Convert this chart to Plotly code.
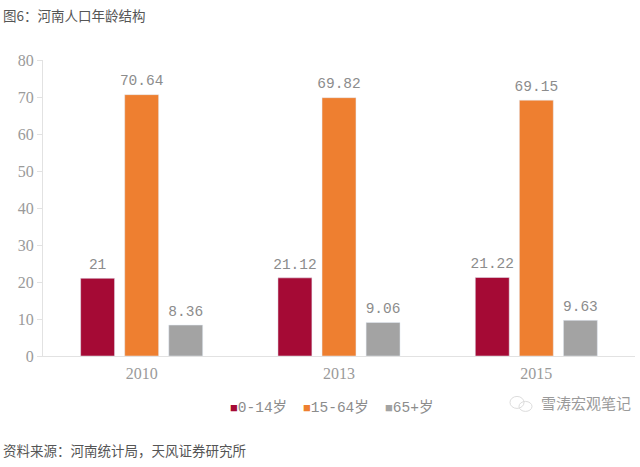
import plotly.graph_objects as go

categories = ["2010", "2013", "2015"]
series_names = ["0-14岁", "15-64岁", "65+岁"]
young = [21, 21.12, 21.22]
working = [70.64, 69.82, 69.15]
old = [8.36, 9.06, 9.63]
labels_young = ["21", "21.12", "21.22"]
labels_working = ["70.64", "69.82", "69.15"]
labels_old = ["8.36", "9.06", "9.63"]
colors = ["#A50A35", "#EE7F30", "#A3A3A3"]
title_text = "图6：河南人口年龄结构"
source_text = "资料来源：河南统计局，天风证券研究所"
mark_text = "雪涛宏观笔记"

SERIF = "Liberation Serif, Noto Sans CJK SC"
MONO = "Liberation Mono, Noto Sans CJK SC"
SANS = "Noto Sans CJK SC"
PW, PH = 592, 296.5

def px(x):
    return (x - 43) / PW

def py(y):
    return (356.5 - y) / PH

fig = go.Figure()
for name, vals, labs, col in zip(series_names, [young, working, old],
                                 [labels_young, labels_working, labels_old], colors):
    fig.add_trace(go.Bar(name=name, x=categories, y=vals, text=labs, marker_color=col,
                         textposition="outside", cliponaxis=False, constraintext="none",
                         texttemplate="<span style='font-size:14.5px'>%{text}</span><br>\u00a0",
                         textfont=dict(family=MONO, size=4, color="#8C8C8C")))

legend_x = [228, 301, 383]
notes = [
    dict(text=title_text, x=px(1), y=py(15), font=dict(family=SANS, size=13.5, color="#555555")),
    dict(text=source_text, x=px(1), y=py(451), font=dict(family=SANS, size=13.5, color="#555555")),
    dict(text=mark_text, x=px(539), y=py(403), font=dict(family=SANS, size=15, color="#9A9A9A")),
]
for name, col, lx in zip(series_names, colors, legend_x):
    notes.append(dict(text=f"<span style='color:{col};font-size:13px'>■</span>{name}",
                      x=px(lx), y=py(408), font=dict(family=MONO, size=14.5, color="#8C8C8C")))
for n in notes:
    n.update(xref="paper", yref="paper", xanchor="left", yanchor="middle", showarrow=False)

fig.update_layout(
    width=640, height=467, autosize=False,
    margin=dict(l=43, r=5, t=60, b=110.5),
    paper_bgcolor="white", plot_bgcolor="white",
    barmode="group", bargap=0.33, bargroupgap=0.23,
    showlegend=False,
    font=dict(family=SERIF, color="#8C8C8C"),
    xaxis=dict(type="category", showline=True, linecolor="#E2E2E2", linewidth=1,
               ticks="", ticklabelstandoff=3, tickfont=dict(family=SERIF, size=16, color="#9A9A9A")),
    yaxis=dict(range=[0, 80], dtick=10, showgrid=False, zeroline=False, showline=True,
               linecolor="#E2E2E2", linewidth=1, ticks="outside", ticklen=5,
               tickcolor="#E2E2E2", tickfont=dict(family=SERIF, size=16, color="#9A9A9A")),
    annotations=notes,
    shapes=[
        dict(type="circle", xref="paper", yref="paper", x0=px(510), x1=px(524), y0=py(409), y1=py(397),
             line=dict(color="#DDDDDD", width=1)),
        dict(type="circle", xref="paper", yref="paper", x0=px(519), x1=px(532), y0=py(412), y1=py(402),
             line=dict(color="#DDDDDD", width=1)),
    ],
)
fig.write_html("out.html", config={"displayModeBar": False},
               post_script="document.body.style.margin='0';")
